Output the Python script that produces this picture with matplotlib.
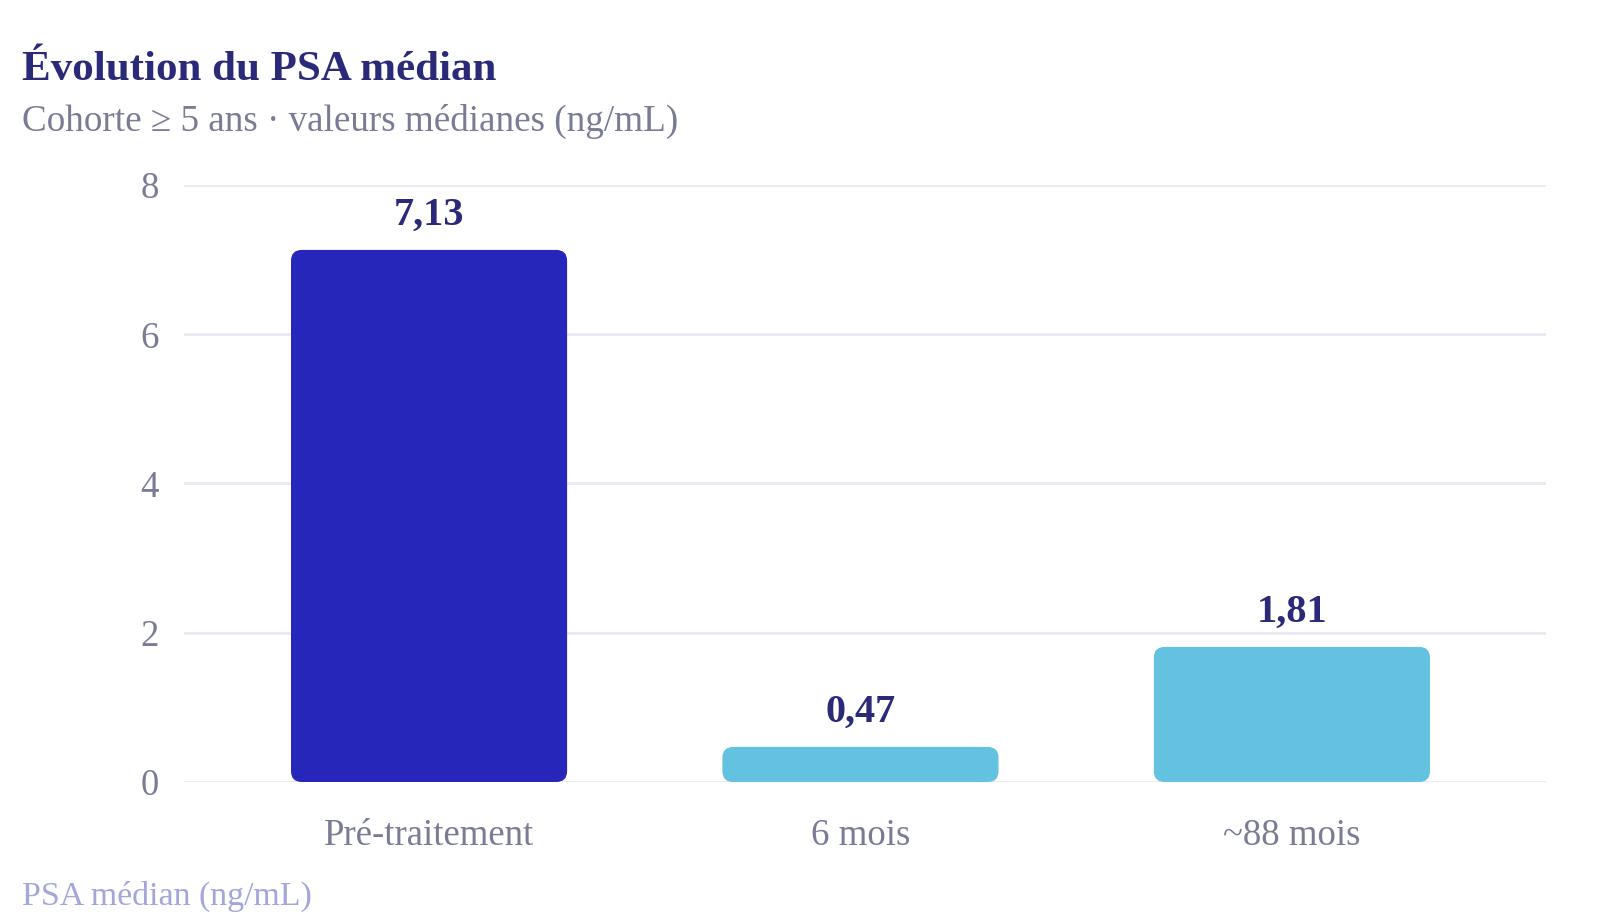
import matplotlib
matplotlib.use("Agg")
import matplotlib.pyplot as plt
from matplotlib.patches import FancyBboxPatch

categories = ["Pré-traitement", "6 mois", "~88 mois"]
values = [7.13, 0.47, 1.81]
labels = ["7,13", "0,47", "1,81"]
colors = ["#2626BB", "#62C2E0", "#62C2E0"]
yticks = [0, 2, 4, 6, 8]

plt.rcParams['font.family'] = ['Liberation Serif', 'DejaVu Serif']

W, H = 1600, 922
L, R, T, B = 184, 1546, 185, 782
fig = plt.figure(figsize=(W/100, H/100), dpi=100)
ax = fig.add_axes([L/W, 1-B/H, (R-L)/W, (B-T)/H])

ax.set_ylim(0, 8)
ax.set_xlim(-0.568, 2.589)
bw = 0.64
aspect = ((R-L)/(2.589+0.568)) / ((B-T)/8)
for i, (v, c, lab) in enumerate(zip(values, colors, labels)):
    p = FancyBboxPatch((i - bw/2, 0), bw, v,
                       boxstyle="round,pad=0,rounding_size=0.025",
                       mutation_aspect=aspect,
                       fc=c, ec='none', zorder=3)
    ax.add_patch(p)
    ax.annotate(lab, (i, v), xytext=(0, 18), textcoords='offset points',
                ha='center', va='baseline', fontsize=29, fontweight='bold',
                color='#2B2A78', zorder=4)

ax.set_yticks(yticks)
ax.set_yticklabels([str(t) for t in yticks])
ax.set_xticks(range(len(categories)))
ax.set_xticklabels(categories)
ax.tick_params(axis='both', length=0, labelsize=26.5, labelcolor='#7A7C95')
ax.tick_params(axis='y', pad=18)
ax.tick_params(axis='x', pad=26)
ax.grid(axis='y', color='#E8EAF3', linewidth=2, zorder=0)
for s in ax.spines.values():
    s.set_visible(False)

fig.text(22/W, 1-80/H, "Évolution du PSA médian", fontsize=31, fontweight='bold',
         color='#2B2A78', ha='left', va='baseline')
fig.text(22/W, 1-131/H, "Cohorte ≥ 5 ans · valeurs médianes (ng/mL)", fontsize=26.7,
         color='#7A7C95', ha='left', va='baseline')
fig.text(22/W, 1-905/H, "PSA médian (ng/mL)", fontsize=24.4,
         color='#A3A6DA', ha='left', va='baseline')

fig.savefig("out.png", dpi=100)
